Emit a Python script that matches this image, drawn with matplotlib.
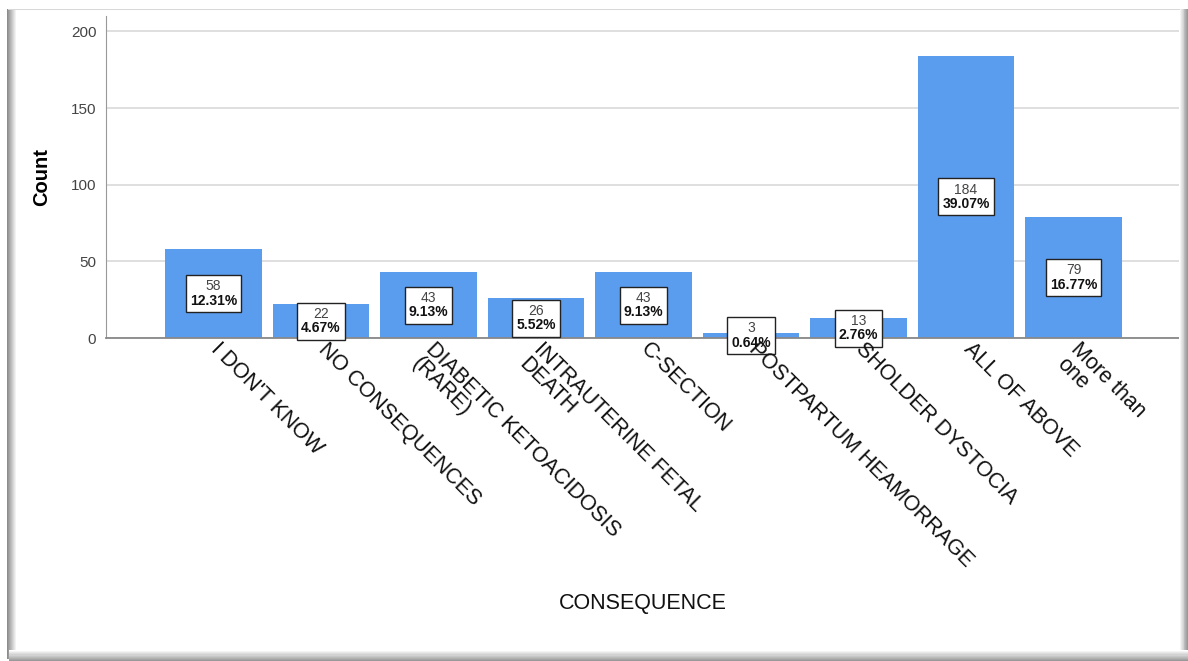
import matplotlib
matplotlib.use("Agg")
import matplotlib.pyplot as plt
import matplotlib.patches as patches
from matplotlib.transforms import ScaledTranslation
from matplotlib.offsetbox import TextArea, VPacker, AnnotationBbox

plt.rcParams['font.family'] = ['Liberation Sans', 'DejaVu Sans']

categories = ["I DON'T KNOW", "NO CONSEQUENCES", "DIABETIC KETOACIDOSIS\n(RARE)",
              "INTRAUTERINE FETAL\nDEATH", "C-SECTION", "POSTPARTUM HEAMORRAGE",
              "SHOLDER DYSTOCIA", "ALL OF ABOVE", "More than\none"]
counts = [58, 22, 43, 26, 43, 3, 13, 184, 79]
percents = ["12.31%", "4.67%", "9.13%", "5.52%", "9.13%", "0.64%", "2.76%", "39.07%", "16.77%"]
yticks = [0, 50, 100, 150, 200]

W, H = 1188, 661
fig = plt.figure(figsize=(W / 100, H / 100), dpi=100)
fig.patch.set_facecolor('white')


def band(x0, y0, w, h, g_from, g_to, vertical, n=10):
    # gradient strip in pixel coords (origin bottom-left)
    for k in range(n):
        g = g_from + (g_to - g_from) * k / (n - 1)
        if vertical:
            r = patches.Rectangle((x0 + w * k / n, y0), w / n + 0.3, h, transform=None,
                                  facecolor=(g, g, g), edgecolor='none', zorder=0)
        else:
            r = patches.Rectangle((x0, y0 + h * k / n), w, h / n + 0.3, transform=None,
                                  facecolor=(g, g, g), edgecolor='none', zorder=0)
        fig.patches.append(r)


# frame with shadow
band(7, 2, 10, H - 11, 0.55, 1.0, vertical=True)
band(1179, 2, 9, H - 11, 1.0, 0.6, vertical=True)
band(9, 0, W - 9, 11, 0.6, 1.0, vertical=False)
fig.patches.append(patches.Rectangle((8, H - 10), 1172, 1.2, transform=None,
                                     facecolor='#d8d8d8', edgecolor='none', zorder=0))

ax = fig.add_axes([106 / W, 1 - 338 / H, (1181 - 106) / W, (338 - 16) / H])
ax.set_facecolor('none')

x = list(range(len(categories)))
ax.bar(x, counts, width=0.9, color='#5A9DEE', zorder=2)

ax.set_xlim(-1, 9)
ax.set_ylim(0, 210)
ax.set_yticks(yticks)
ax.yaxis.grid(True, color='#d9d9d9', lw=1.2, zorder=0)
ax.tick_params(axis='y', length=0, pad=7, labelsize=11, labelcolor='#444444')
ax.set_xticks([])
for s in ['top', 'right']:
    ax.spines[s].set_visible(False)
ax.spines['left'].set_color('#999999')
ax.spines['bottom'].set_color('#888888')
ax.spines['bottom'].set_linewidth(1.3)
ax.spines['bottom'].set_zorder(3)

# value boxes: count (normal) over percent (bold)
for i, (c, p) in enumerate(zip(counts, percents)):
    t1 = TextArea(str(c), textprops=dict(fontsize=10, color='#444444'))
    t2 = TextArea(p, textprops=dict(fontsize=10, fontweight='bold', color='#111111'))
    box = VPacker(children=[t1, t2], align='center', pad=0, sep=0.5)
    ab = AnnotationBbox(box, (i, c / 2), xycoords='data', frameon=True, pad=0.3,
                        bboxprops=dict(boxstyle='square', facecolor='white',
                                       edgecolor='#222222', lw=1), zorder=4)
    ax.add_artist(ab)

# rotated category labels
off = ScaledTranslation(0.08, -0.01, fig.dpi_scale_trans)
for i, lab in enumerate(categories):
    ax.text(i, 0, lab, transform=ax.get_xaxis_transform() + off,
            rotation=-45, rotation_mode='anchor', ha='left', va='top',
            fontsize=15.5, color='#111111', clip_on=False, zorder=6,
            multialignment='left', linespacing=0.95)

ax.set_ylabel('Count', fontsize=14.5, fontweight='bold')
ax.yaxis.set_label_coords(-0.051, 0.5)
fig.text(643 / W, 1 - 604 / H, 'CONSEQUENCE', ha='center', va='center',
         fontsize=15.5, color='#111111')

fig.savefig('out.png', dpi=100)
